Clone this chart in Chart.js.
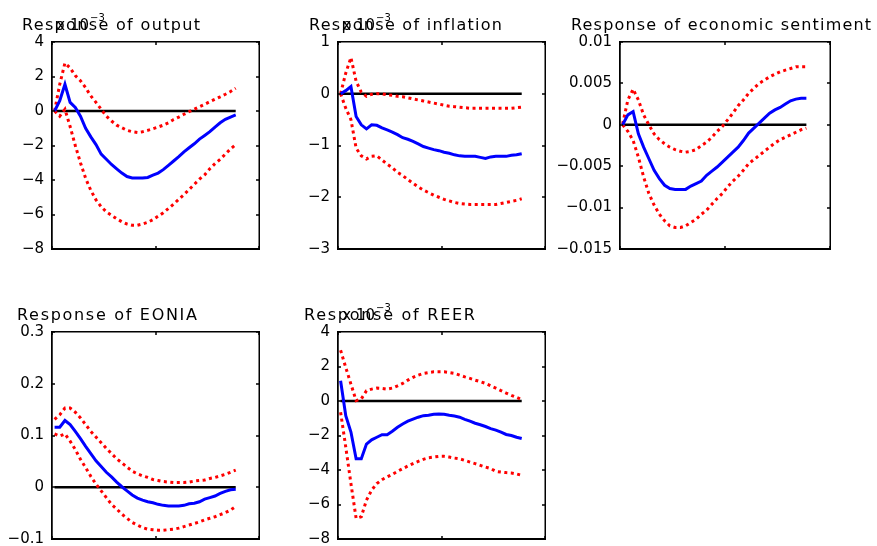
<!DOCTYPE html>
<html>
<head>
<meta charset="utf-8">
<script src="https://cdn.jsdelivr.net/npm/chart.js@4"></script>
<style>
html, body { margin: 0; padding: 0; background: #fff; }
#wrap { position: relative; width: 877px; height: 546px; overflow: hidden; }
#wrap canvas { position: absolute; left: 0; top: 0; }
#wrap span { position: absolute; white-space: nowrap; color: #000; }
</style>
</head>
<body>
<div id="wrap">
  <canvas id="c1" width="877" height="600"></canvas>
  <canvas id="c2" width="877" height="600"></canvas>
  <canvas id="c3" width="877" height="600"></canvas>
  <canvas id="c4" width="877" height="600"></canvas>
  <canvas id="c5" width="877" height="600"></canvas>
</div>
<script>
// horizons (months after the shock)
const horizons = [1,2,3,4,5,6,7,8,9,10,11,12,13,14,15,16,17,18,19,20,21,22,23,24,25,26,27,28,29,30,31,32,33,34,35,36];
const xTicks = [0.5, 20.5, 40.5];

// output, x 10^-3
const outputIrf   = [0,0.6,1.55,0.5,0.2,-0.3,-1.0,-1.5,-1.95,-2.5,-2.8,-3.1,-3.35,-3.6,-3.8,-3.88,-3.88,-3.88,-3.85,-3.72,-3.6,-3.4,-3.15,-2.9,-2.65,-2.37,-2.13,-1.9,-1.63,-1.42,-1.2,-0.93,-0.68,-0.48,-0.35,-0.23];
const outputUpper = [0,1.55,2.78,2.5,2.05,1.75,1.35,0.87,0.5,0.1,-0.3,-0.58,-0.82,-0.97,-1.12,-1.2,-1.24,-1.2,-1.12,-1.03,-0.93,-0.82,-0.68,-0.49,-0.35,-0.19,-0.04,0.1,0.25,0.39,0.54,0.68,0.82,0.97,1.13,1.32];
const outputLower = [0,-0.3,0.1,-0.9,-2.0,-3.0,-3.9,-4.6,-5.15,-5.55,-5.85,-6.05,-6.25,-6.42,-6.55,-6.62,-6.62,-6.55,-6.45,-6.3,-6.1,-5.9,-5.65,-5.4,-5.12,-4.85,-4.55,-4.25,-3.95,-3.7,-3.35,-3.05,-2.8,-2.5,-2.2,-1.95];
const outputTicks = [-8,-6,-4,-2,0,2,4];
const outputTickLabels = ['\u22128','\u22126','\u22124','\u22122','0','2','4'];

// inflation, x 10^-3
const inflationIrf   = [0,0.06,0.14,-0.44,-0.6,-0.68,-0.6,-0.61,-0.66,-0.7,-0.74,-0.79,-0.85,-0.88,-0.92,-0.97,-1.02,-1.05,-1.08,-1.1,-1.13,-1.15,-1.18,-1.2,-1.21,-1.21,-1.21,-1.23,-1.25,-1.22,-1.21,-1.21,-1.21,-1.19,-1.18,-1.16];
const inflationUpper = [0,0.4,0.7,0.24,0.03,-0.05,-0.01,0,0,-0.02,-0.03,-0.05,-0.06,-0.08,-0.1,-0.12,-0.14,-0.16,-0.18,-0.2,-0.22,-0.24,-0.25,-0.26,-0.27,-0.28,-0.28,-0.28,-0.28,-0.28,-0.28,-0.28,-0.28,-0.28,-0.27,-0.26];
const inflationLower = [0,-0.28,-0.5,-1.05,-1.2,-1.26,-1.21,-1.2,-1.28,-1.36,-1.43,-1.52,-1.58,-1.66,-1.73,-1.8,-1.86,-1.91,-1.96,-2.0,-2.04,-2.07,-2.1,-2.12,-2.13,-2.14,-2.14,-2.14,-2.14,-2.14,-2.14,-2.12,-2.1,-2.08,-2.06,-2.03];
const inflationTicks = [-3,-2,-1,0,1];
const inflationTickLabels = ['\u22123','\u22122','\u22121','0','1'];

// economic sentiment
const sentimentIrf   = [0,0.0012,0.0016,-0.0011,-0.0027,-0.0041,-0.0055,-0.0065,-0.0073,-0.0077,-0.0078,-0.0078,-0.0078,-0.0074,-0.0071,-0.0068,-0.0061,-0.0056,-0.0051,-0.0045,-0.0039,-0.0033,-0.0027,-0.0019,-0.001,-0.0004,0.0002,0.0008,0.0014,0.0018,0.0021,0.0025,0.0029,0.0031,0.0032,0.0032];
const sentimentUpper = [0.0001,0.003,0.0043,0.003,0.0012,0,-0.0011,-0.0018,-0.0023,-0.0027,-0.003,-0.0032,-0.0033,-0.0032,-0.003,-0.0025,-0.0021,-0.0015,-0.0008,-0.0002,0.0006,0.0014,0.0023,0.003,0.0038,0.0044,0.005,0.0054,0.0058,0.0061,0.0064,0.0066,0.0068,0.007,0.007,0.007];
const sentimentLower = [0,-0.0008,-0.0019,-0.0039,-0.0063,-0.0083,-0.0097,-0.0108,-0.0116,-0.0122,-0.0124,-0.0124,-0.0122,-0.0118,-0.0114,-0.0108,-0.0103,-0.0096,-0.0089,-0.0083,-0.0075,-0.0068,-0.0062,-0.0055,-0.0047,-0.0042,-0.0037,-0.0032,-0.0027,-0.0022,-0.0018,-0.0015,-0.0012,-0.0009,-0.0006,-0.0004];
const sentimentTicks = [-0.015,-0.01,-0.005,0,0.005,0.01];
const sentimentTickLabels = ['\u22120.015','\u22120.01','\u22120.005','0','0.005','0.01'];

// EONIA
const eoniaIrf   = [0.116,0.116,0.129,0.121,0.108,0.094,0.079,0.065,0.051,0.04,0.029,0.02,0.01,0.001,-0.007,-0.015,-0.021,-0.025,-0.028,-0.03,-0.033,-0.035,-0.036,-0.036,-0.036,-0.035,-0.032,-0.031,-0.028,-0.023,-0.02,-0.017,-0.012,-0.008,-0.005,-0.004];
const eoniaUpper = [0.131,0.14,0.153,0.153,0.145,0.134,0.121,0.108,0.097,0.086,0.075,0.065,0.055,0.047,0.039,0.031,0.026,0.022,0.019,0.015,0.013,0.011,0.01,0.009,0.009,0.009,0.01,0.012,0.013,0.014,0.017,0.019,0.022,0.025,0.029,0.033];
const eoniaLower = [0.103,0.099,0.103,0.089,0.073,0.054,0.038,0.021,0.006,-0.007,-0.02,-0.033,-0.042,-0.052,-0.06,-0.068,-0.073,-0.078,-0.081,-0.082,-0.083,-0.083,-0.082,-0.081,-0.079,-0.076,-0.073,-0.07,-0.067,-0.063,-0.06,-0.057,-0.053,-0.049,-0.044,-0.037];
const eoniaTicks = [-0.1,0,0.1,0.2,0.3];
const eoniaTickLabels = ['\u22120.1','0','0.1','0.2','0.3'];

// REER, x 10^-3
const reerIrf   = [1.17,-0.85,-1.8,-3.35,-3.35,-2.5,-2.25,-2.1,-1.95,-1.95,-1.75,-1.52,-1.33,-1.17,-1.05,-0.94,-0.85,-0.83,-0.77,-0.75,-0.77,-0.83,-0.87,-0.94,-1.06,-1.17,-1.29,-1.38,-1.48,-1.6,-1.69,-1.81,-1.94,-2.0,-2.1,-2.17];
const reerUpper = [2.94,1.94,0.98,0.02,0.12,0.6,0.69,0.75,0.73,0.69,0.75,0.88,1.02,1.21,1.37,1.5,1.6,1.65,1.69,1.69,1.69,1.65,1.6,1.5,1.4,1.31,1.21,1.12,1.02,0.88,0.75,0.6,0.46,0.33,0.21,0.08];
const reerLower = [-0.65,-2.67,-4.79,-6.8,-6.71,-5.75,-5.17,-4.79,-4.56,-4.4,-4.25,-4.08,-3.92,-3.77,-3.63,-3.5,-3.38,-3.29,-3.25,-3.21,-3.21,-3.25,-3.31,-3.35,-3.44,-3.54,-3.63,-3.73,-3.83,-3.92,-4.08,-4.12,-4.15,-4.17,-4.23,-4.31];
const reerTicks = [-8,-6,-4,-2,0,2,4];
const reerTickLabels = ['\u22128','\u22126','\u22124','\u22122','0','2','4'];

const panelTitles = ['Response of output', 'Response of inflation', 'Response of economic sentiment', 'Response of EONIA', 'Response of REER'];

// canvases are taller than the window so the bottom padding never gets overridden
const W = 877, H = 600, AXIS_W = 64;
const FONT = '"DejaVu Sans", "Liberation Sans", sans-serif';
const wrap = document.getElementById('wrap');

// titles and exponent labels as positioned text, stretched to the reference width
function addLabel(text, x, baseline, size, width, alignRight) {
  const s = document.createElement('span');
  s.textContent = text;
  s.style.fontFamily = FONT;
  s.style.fontSize = size + 'px';
  s.style.lineHeight = size + 'px';
  s.style.left = '0px';
  s.style.top = '0px';
  wrap.appendChild(s);
  let w = s.getBoundingClientRect().width;
  if (width && text.length > 1) {
    s.style.letterSpacing = ((width - w) / (text.length - 1)).toFixed(2) + 'px';
    w = s.getBoundingClientRect().width;
  }
  s.style.left = (alignRight ? x - w : x) + 'px';
  s.style.top = (baseline - size * 0.846) + 'px';
}

// box and inward ticks in MATLAB style
const framePlugin = {
  id: 'frame',
  afterDraw(chart) {
    const ctx = chart.ctx, a = chart.chartArea, xs = chart.scales.x, ys = chart.scales.y;
    const lw = 1.5;
    ctx.save();
    ctx.fillStyle = '#000';
    ctx.fillRect(a.left - 1, a.top - 1, a.right - a.left + 2, lw);
    ctx.fillRect(a.left - 1, a.bottom - 0.5, a.right - a.left + 2, lw);
    ctx.fillRect(a.left - 1, a.top - 1, lw, a.bottom - a.top + 2);
    ctx.fillRect(a.right - 0.5, a.top - 1, lw, a.bottom - a.top + 2);
    ys.ticks.forEach(tk => {
      const py = Math.round(ys.getPixelForValue(tk.value));
      ctx.fillRect(a.left, py - 0.75, 3, lw);
      ctx.fillRect(a.right - 3, py - 0.75, 3, lw);
    });
    xTicks.forEach(v => {
      const px = Math.round(xs.getPixelForValue(v));
      ctx.fillRect(px - 0.75, a.bottom - 3, lw, 3);
      ctx.fillRect(px - 0.75, a.top, lw, 3);
    });
    ctx.restore();
  }
};

function makePanel(id, p) {
  const pts = arr => horizons.map((h, i) => ({ x: h, y: arr[i] }));
  const zeroLine = horizons.map(h => ({ x: h, y: 0 }));
  const chart = new Chart(document.getElementById(id), {
    type: 'line',
    data: {
      datasets: [
        { data: pts(p.irf), borderColor: '#0000ff', borderWidth: 3, order: 1 },
        { data: pts(p.upper), borderColor: '#ff0000', borderWidth: 3, borderDash: [3, 3.5], order: 2 },
        { data: pts(p.lower), borderColor: '#ff0000', borderWidth: 3, borderDash: [3, 3.5], order: 3 },
        { data: zeroLine, borderColor: '#000000', borderWidth: 2.6, order: 4 }
      ]
    },
    options: {
      responsive: false,
      animation: false,
      events: [],
      elements: { point: { radius: 0 }, line: { tension: 0, borderCapStyle: 'butt' } },
      layout: { padding: { left: p.box[0] - AXIS_W, top: p.box[1], right: W - p.box[2], bottom: H - p.box[3] } },
      plugins: { legend: { display: false }, tooltip: { enabled: false }, title: { display: false } },
      scales: {
        x: {
          type: 'linear', display: true, min: 0.5, max: 40.5,
          ticks: { display: false },
          grid: { display: false, drawTicks: false },
          border: { display: true, color: '#000', width: 1.5 },
          afterFit: s => { s.height = 0; }
        },
        y: {
          type: 'linear', min: p.ticks[0], max: p.ticks[p.ticks.length - 1],
          grid: { display: false, drawTicks: false },
          border: { display: true, color: '#000', width: 1.5 },
          afterBuildTicks: s => { s.ticks = p.ticks.map(v => ({ value: v })); },
          afterFit: s => { s.width = AXIS_W; },
          ticks: {
            padding: 8,
            color: '#000',
            font: { family: FONT, size: 15 },
            callback: (v, i) => p.labels[i]
          }
        }
      }
    },
    plugins: [framePlugin]
  });
  addLabel(p.title.text, p.title.x, p.title.y, 16, p.title.w, false);
  if (p.exponent) {
    addLabel('x 10', p.exponent.x, p.exponent.y, 15, 0, true);
    addLabel('\u22123', p.exponent.x + 1, p.exponent.y - 10, 10, 0, false);
  }
  return chart;
}

makePanel('c1', { box: [52, 42, 259, 249], irf: outputIrf, upper: outputUpper, lower: outputLower,
  ticks: outputTicks, labels: outputTickLabels,
  title: { text: panelTitles[0], x: 22, y: 31, w: 178 }, exponent: { x: 89, y: 31 } });
makePanel('c2', { box: [338, 42, 545, 249], irf: inflationIrf, upper: inflationUpper, lower: inflationLower,
  ticks: inflationTicks, labels: inflationTickLabels,
  title: { text: panelTitles[1], x: 309, y: 31, w: 193 }, exponent: { x: 375, y: 31 } });
makePanel('c3', { box: [620, 42, 830, 249], irf: sentimentIrf, upper: sentimentUpper, lower: sentimentLower,
  ticks: sentimentTicks, labels: sentimentTickLabels,
  title: { text: panelTitles[2], x: 571, y: 31, w: 300 } });
makePanel('c4', { box: [52, 332, 259, 539], irf: eoniaIrf, upper: eoniaUpper, lower: eoniaLower,
  ticks: eoniaTicks, labels: eoniaTickLabels,
  title: { text: panelTitles[3], x: 17, y: 321, w: 180 } });
makePanel('c5', { box: [338, 332, 545, 539], irf: reerIrf, upper: reerUpper, lower: reerLower,
  ticks: reerTicks, labels: reerTickLabels,
  title: { text: panelTitles[4], x: 304, y: 321, w: 171 }, exponent: { x: 375, y: 321 } });
</script>
</body>
</html>
